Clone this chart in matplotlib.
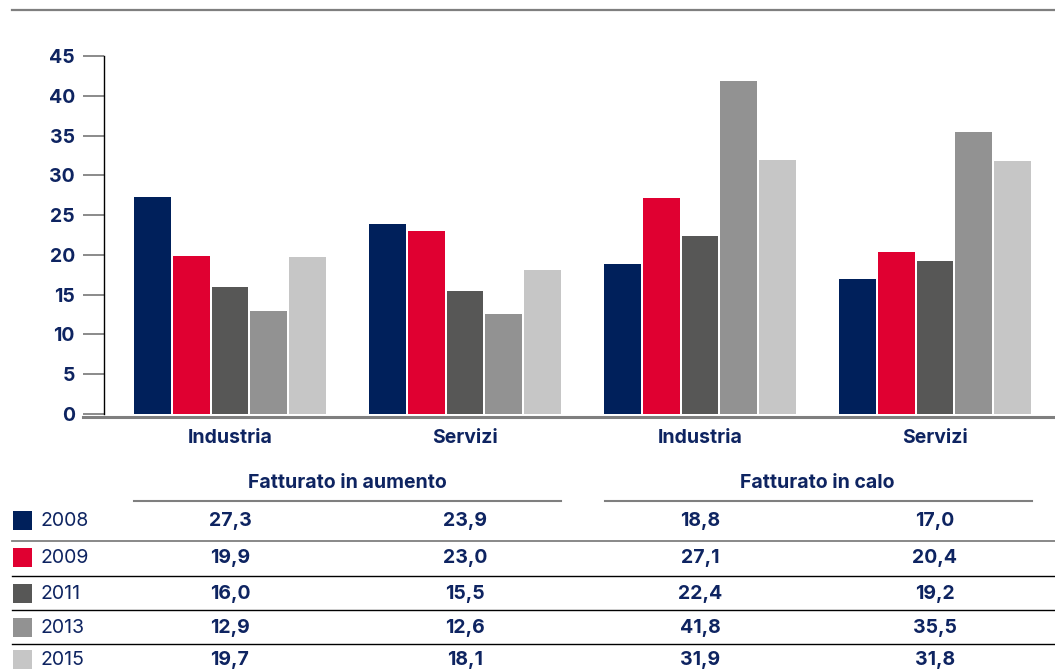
import matplotlib
matplotlib.use("Agg")
import matplotlib.pyplot as plt
import numpy as np
from matplotlib.lines import Line2D
from matplotlib.patches import Rectangle
import matplotlib.transforms as mtransforms

plt.rcParams['font.family'] = ['Inter', 'DejaVu Sans']

categories = ["Industria", "Servizi", "Industria", "Servizi"]
years = ["2008", "2009", "2011", "2013", "2015"]
values = {
    "2008": [27.3, 23.9, 18.8, 17.0],
    "2009": [19.9, 23.0, 27.1, 20.4],
    "2011": [16.0, 15.5, 22.4, 19.2],
    "2013": [12.9, 12.6, 41.8, 35.5],
    "2015": [19.7, 18.1, 31.9, 31.8],
}
colors = ["#00205B", "#E00031", "#575756", "#929292", "#C6C6C6"]
group_titles = ["Fatturato in aumento", "Fatturato in calo"]
yticks = [0, 5, 10, 15, 20, 25, 30, 35, 40, 45]

TXT = "#0E2461"
FS = 14
W, H = 1055, 670
fig = plt.figure(figsize=(W / 100, H / 100), dpi=100)

def fy(px):
    return 1 - px / H

def fx(px):
    return px / W

y0_px, y45_px = 414, 56
ax = fig.add_axes([fx(104), fy(y0_px), fx(W) - fx(104), fy(y45_px) - fy(y0_px)])

x = np.arange(len(categories))
step = 0.165
width = 0.157
for i, yr in enumerate(years):
    ax.bar(x + (i - 2) * step, values[yr], width=width, color=colors[i], linewidth=0)

ax.set_ylim(0, 45)
ax.set_xlim(-0.536, -0.536 + (W - 104) / 235)
ax.set_yticks(yticks)
ax.set_yticklabels([str(t) for t in yticks], fontsize=FS, fontweight='bold', color=TXT)
ax.tick_params(axis='y', direction='out', length=15, width=1.2, color='#777777', pad=6)
ax.set_xticks(x)
ax.set_xticklabels(categories, fontsize=FS, fontweight='bold', color=TXT)
ax.tick_params(axis='x', length=0, pad=11)
for s in ['top', 'right', 'bottom']:
    ax.spines[s].set_visible(False)
ax.spines['left'].set_color('black')
ax.spines['left'].set_linewidth(1.0)
ax.spines['left'].set_bounds(0, 45)

# baseline and top rule
fig.add_artist(Line2D([fx(83), 1.0], [fy(417), fy(417)], color='#7F7F7F', lw=2.2))
fig.add_artist(Line2D([fx(12), 1.0], [fy(10), fy(10)], color='#7F7F7F', lw=1.6))

# table
blend = mtransforms.blended_transform_factory(ax.transData, fig.transFigure)
header_y = fy(483)
fig.text(np.mean(x[:2]), header_y, group_titles[0], transform=blend, ha='center', va='center',
         fontsize=FS, fontweight='bold', color=TXT)
fig.text(np.mean(x[2:]), header_y, group_titles[1], transform=blend, ha='center', va='center',
         fontsize=FS, fontweight='bold', color=TXT)
fig.add_artist(Line2D([fx(134), fx(561)], [fy(501), fy(501)], color='#7F7F7F', lw=1.5))
fig.add_artist(Line2D([fx(605), fx(1032)], [fy(501), fy(501)], color='#7F7F7F', lw=1.5))

row_y = [521, 558, 594, 628, 660]
sep_y = [541, 576, 610, 644]
sep_c = ['#7F7F7F', 'black', 'black', 'black']
for i, yr in enumerate(years):
    yc = row_y[i]
    fig.add_artist(Rectangle((fx(13), fy(yc + 9)), fx(19), fy(yc - 10) - fy(yc + 9),
                             transform=fig.transFigure, color=colors[i], lw=0))
    fig.text(fx(40), fy(yc), yr, ha='left', va='center', fontsize=FS, color=TXT)
    for j in range(len(categories)):
        fig.text(x[j], fy(yc), f"{values[yr][j]:.1f}".replace('.', ','), transform=blend,
                 ha='center', va='center', fontsize=FS, fontweight='bold', color=TXT)
for yy, c in zip(sep_y, sep_c):
    fig.add_artist(Line2D([fx(12), 1.0], [fy(yy), fy(yy)], color=c, lw=1.3 if c != 'black' else 1.0))

fig.savefig("out.png", dpi=100)
